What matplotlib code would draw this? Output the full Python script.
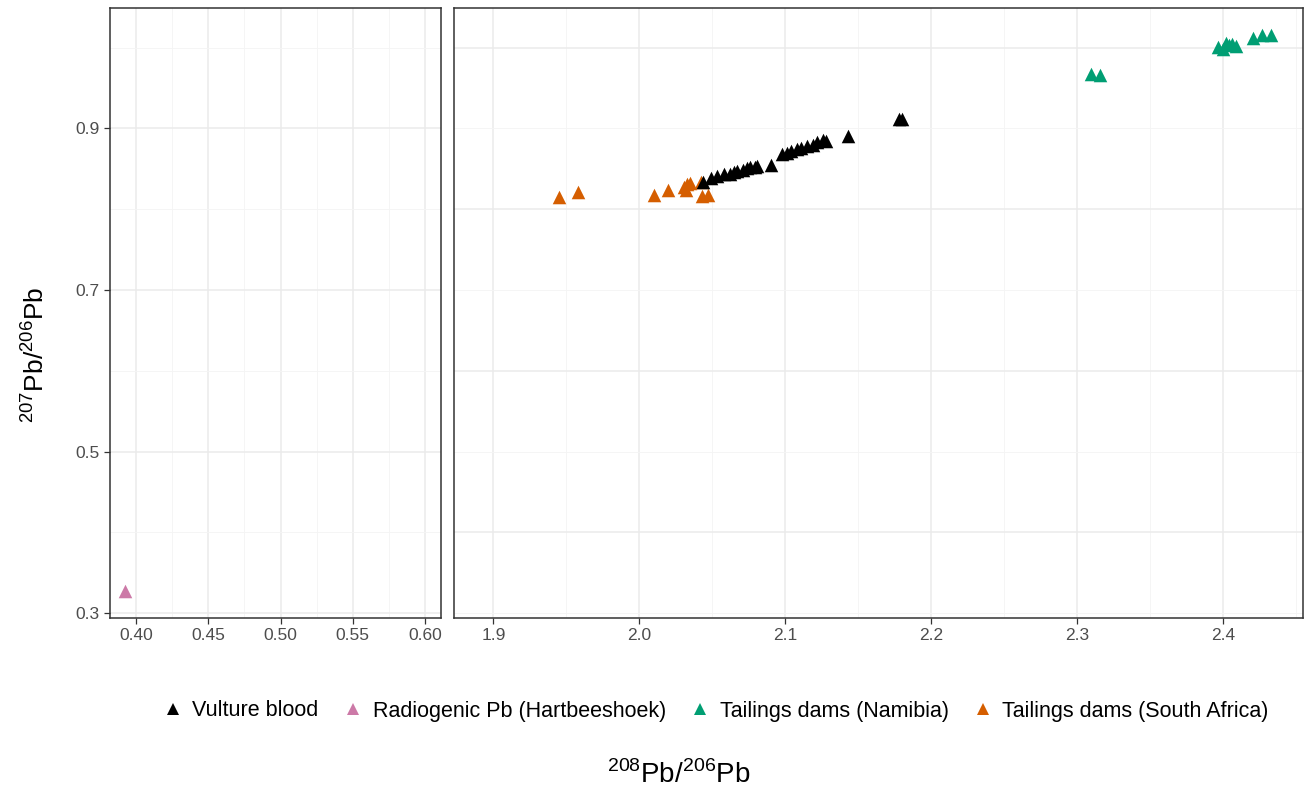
import matplotlib
matplotlib.use("Agg")
import matplotlib.pyplot as plt
from matplotlib.ticker import MultipleLocator

plt.rcParams['font.family'] = ['Liberation Sans', 'DejaVu Sans']
plt.rcParams['mathtext.fontset'] = 'custom'
plt.rcParams['mathtext.rm'] = 'Liberation Sans'

# Pb isotope ratios (208/206 vs 207/206)
vulture_x = [2.044, 2.049, 2.053, 2.058, 2.062, 2.065, 2.067, 2.071, 2.074, 2.076,
             2.079, 2.081, 2.090, 2.098, 2.101, 2.104, 2.108, 2.111, 2.115, 2.119,
             2.122, 2.126, 2.128, 2.143, 2.178, 2.180]
vulture_y = [0.834, 0.838, 0.841, 0.843, 0.844, 0.846, 0.847, 0.849, 0.851, 0.852,
             0.852, 0.853, 0.855, 0.868, 0.870, 0.872, 0.874, 0.876, 0.878, 0.880,
             0.883, 0.886, 0.885, 0.890, 0.912, 0.911]

radiogenic_x = [0.3924]
radiogenic_y = [0.328]

namibia_x = [2.310, 2.316, 2.397, 2.400, 2.402, 2.404, 2.406, 2.409, 2.421, 2.427, 2.433]
namibia_y = [0.967, 0.966, 1.001, 0.998, 1.006, 1.003, 1.005, 1.002, 1.012, 1.016, 1.016]

safrica_x = [1.945, 1.958, 2.010, 2.020, 2.031, 2.032, 2.033, 2.035, 2.042, 2.043, 2.047]
safrica_y = [0.815, 0.821, 0.817, 0.824, 0.827, 0.824, 0.831, 0.833, 0.834, 0.816, 0.818]

groups = ["Vulture blood", "Radiogenic Pb (Hartbeeshoek)",
          "Tailings dams (Namibia)", "Tailings dams (South Africa)"]
colors = ["#000000", "#CC79A7", "#009E73", "#D55E00"]

W, H = 1313, 802
fig = plt.figure(figsize=(W / 100, H / 100), dpi=100)

def box(x0, y0, x1, y1):
    return [x0 / W, 1 - y1 / H, (x1 - x0) / W, (y1 - y0) / H]

ax1 = fig.add_axes(box(110, 8, 441, 618))
ax2 = fig.add_axes(box(454, 8, 1303, 618))

for ax in (ax1, ax2):
    ax.set_ylim(0.294, 1.049)
    ax.yaxis.set_major_locator(MultipleLocator(0.2))
    ax.yaxis.set_minor_locator(MultipleLocator(0.1))
    ax.grid(which='major', color='#EBEBEB', linewidth=1.1)
    ax.grid(which='minor', color='#F4F4F4', linewidth=0.6)
    ax.set_axisbelow(True)
    for s in ax.spines.values():
        s.set_color('#333333')
        s.set_linewidth(1.1)
    ax.tick_params(which='major', length=4, color='#333333', labelsize=12.5,
                   labelcolor='#4D4D4D', width=0.9)
    ax.tick_params(which='minor', length=0)

ax1.set_xlim(0.382, 0.611)
ax1.set_xticks([0.40, 0.45, 0.50, 0.55, 0.60])
ax1.set_xticklabels(['0.40', '0.45', '0.50', '0.55', '0.60'])
ax1.xaxis.set_minor_locator(MultipleLocator(0.025))
ax1.set_yticks([0.3, 0.5, 0.7, 0.9])
ax1.set_yticklabels(['0.3', '0.5', '0.7', '0.9'])

ax2.set_xlim(1.873, 2.455)
ax2.set_xticks([1.9, 2.0, 2.1, 2.2, 2.3, 2.4])
ax2.set_xticklabels(['1.9', '2.0', '2.1', '2.2', '2.3', '2.4'])
ax2.xaxis.set_minor_locator(MultipleLocator(0.05))
ax2.tick_params(axis='y', which='both', left=False, labelleft=False)

ms = 95
ax1.scatter(radiogenic_x, radiogenic_y, marker='^', s=ms, color=colors[1], linewidths=0)
ax2.scatter(namibia_x, namibia_y, marker='^', s=ms, color=colors[2], linewidths=0)
ax2.scatter(safrica_x, safrica_y, marker='^', s=ms, color=colors[3], linewidths=0)
ax2.scatter(vulture_x, vulture_y, marker='^', s=ms, color=colors[0], linewidths=0)

# legend
handles = [plt.Line2D([], [], marker='^', linestyle='none', markersize=8,
                      markeredgewidth=0, color=c) for c in colors]
fig.legend(handles, groups, loc='center', bbox_to_anchor=(0.545, 1 - 711 / H),
           ncol=4, frameon=False, fontsize=15.5, handletextpad=0.4,
           columnspacing=1.1, handlelength=1.0)

fig.text(0.517, 1 - 775 / H, r'$^{208}$Pb/$^{206}$Pb', ha='center', va='center', fontsize=20)
fig.text(35 / W, 1 - 355 / H, r'$^{207}$Pb/$^{206}$Pb', ha='center', va='center',
         rotation=90, fontsize=19)

fig.savefig('out.png', dpi=100)
